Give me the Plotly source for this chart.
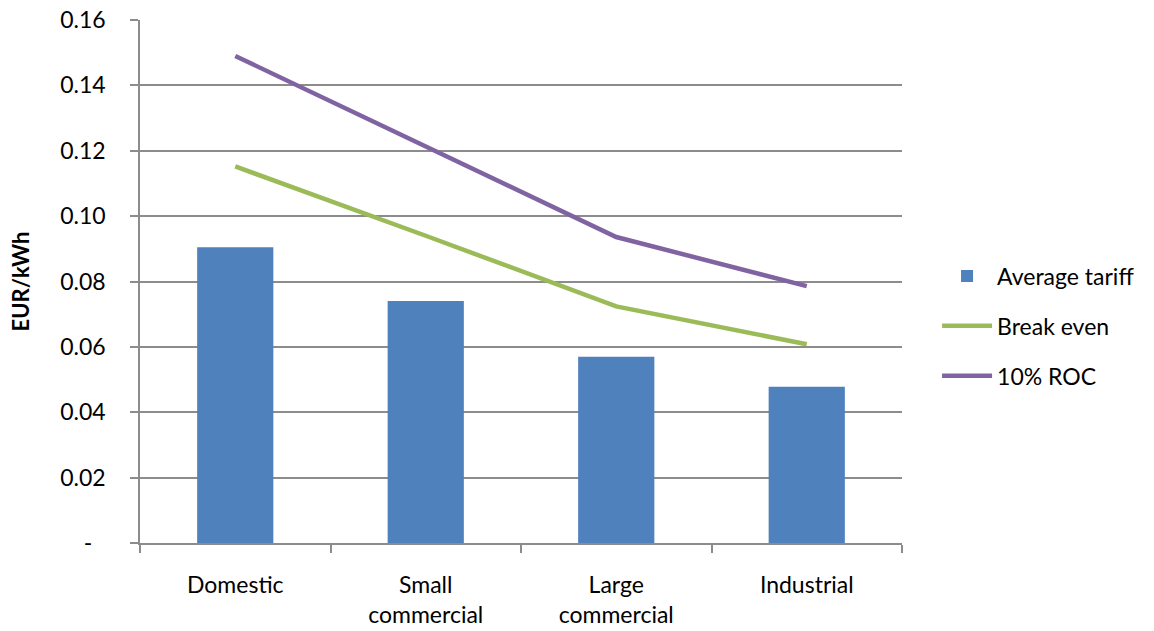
import plotly.graph_objects as go

categories = ["Domestic", "Small<br>commercial", "Large<br>commercial", "Industrial"]
average_tariff = [0.0905, 0.0740, 0.0570, 0.0478]
break_even = [0.1152, 0.0940, 0.0724, 0.0608]
roc_10 = [0.1490, 0.1212, 0.0936, 0.0786]
y_tickvals = [0, 0.02, 0.04, 0.06, 0.08, 0.10, 0.12, 0.14, 0.16]
y_ticktext = ["-\u2007", "0.02", "0.04", "0.06", "0.08", "0.10", "0.12", "0.14", "0.16"]

FONT = "Lato"
GRID = "#8c8c8c"
FS = 23

fig = go.Figure()
fig.add_trace(go.Bar(x=categories, y=average_tariff, name="Average tariff",
                     marker=dict(color="#4F81BD", line=dict(width=0)),
                     legendgroup="a"))
fig.add_trace(go.Scatter(x=categories, y=break_even, name="Break even", mode="lines",
                         line=dict(color="#9BBB59", width=4.5), legendgroup="b"))
fig.add_trace(go.Scatter(x=categories, y=roc_10, name="10% ROC", mode="lines",
                         line=dict(color="#8064A2", width=4.5), legendgroup="c"))

fig.update_layout(
    width=1154, height=631,
    margin=dict(l=140, r=252, t=20, b=88, autoexpand=False),
    paper_bgcolor="white", plot_bgcolor="white",
    font=dict(family=FONT, size=FS, color="#000000"),
    bargap=0.6,
    showlegend=True,
    legend=dict(x=1.046, y=0.415, xanchor="left", yanchor="middle",
                font=dict(family=FONT, size=FS), tracegroupgap=17,
                itemwidth=50, bgcolor="rgba(0,0,0,0)"),
    xaxis=dict(
        type="category", range=[-0.5, 3.5], automargin=False,
        showline=True, linecolor=GRID, linewidth=1.5,
        ticks="outside", tickson="boundaries", ticklen=8, tickcolor=GRID, tickwidth=1.5,
        showgrid=False, ticklabelstandoff=21,
        tickfont=dict(family=FONT, size=FS),
    ),
    yaxis=dict(
        range=[0, 0.16], tickvals=y_tickvals, ticktext=y_ticktext, automargin=False,
        showline=True, linecolor=GRID, linewidth=1.5,
        ticks="outside", ticklen=8, tickcolor=GRID, tickwidth=1.5,
        showgrid=True, gridcolor=GRID, gridwidth=1.5,
        zeroline=False, ticklabelstandoff=20,
        tickfont=dict(family=FONT, size=FS),
        title=dict(text="<b>EUR/kWh</b>", font=dict(family=FONT, size=22), standoff=24),
    ),
)

fig.write_html("out.html")
